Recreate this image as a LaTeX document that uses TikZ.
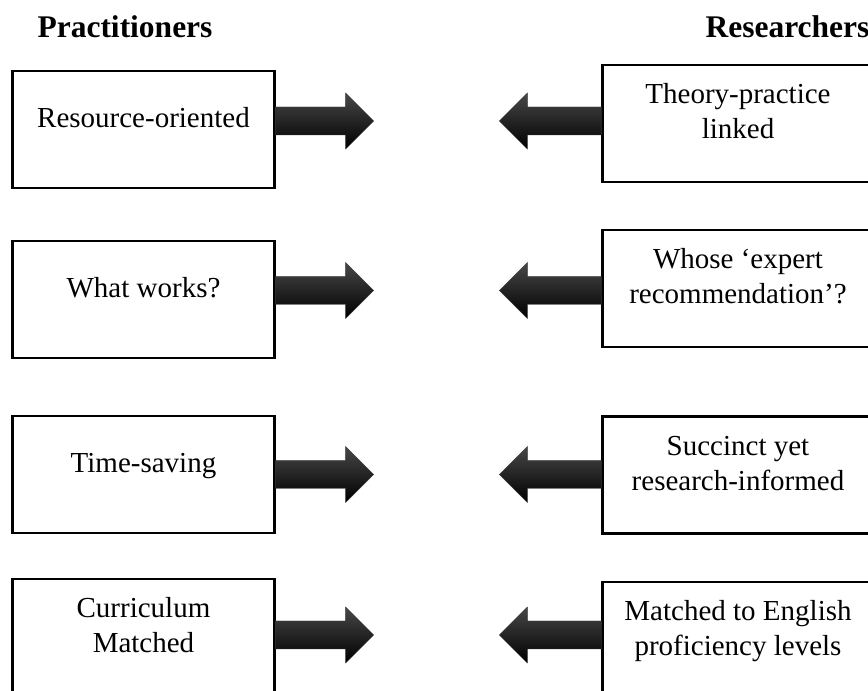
\documentclass[tikz,border=0pt]{standalone}
\usepackage{fontspec}
\setmainfont{Liberation Serif}
\usepackage{tikz}
\usetikzlibrary{calc}
\tikzstyle{head}     = [font=\fontsize{31.5}{38}\selectfont\bfseries, inner sep=0pt]
\tikzstyle{stance}   = [rectangle, draw=black, line width=2.2pt, minimum height=117pt, inner sep=0pt, font=\fontsize{29}{35}\selectfont]
\tikzstyle{practbox} = [stance, minimum width=262pt]
\tikzstyle{resbox}   = [stance, minimum width=271pt]
\tikzstyle{fatarrow} = [top color=black!72, middle color=black, bottom color=black, draw=black!80, line width=0.4pt]
\newcommand{\boxtext}[1]{\raisebox{9pt}[\height][\depth]{\begin{tabular}{@{}c@{}}#1\end{tabular}}}

\begin{document}
\begin{tikzpicture}[x=1pt, y=1pt]
    \clip (0,0) rectangle (868,691);

    \node (practhead) [head] at (125,664)   {Practitioners};
    \node (reshead)   [head] at (787.5,664) {Researchers};

    \node (prac1) [practbox] at (143.5,561.5) {\boxtext{Resource-oriented}};
    \node (prac2) [practbox] at (143.5,391.5) {\boxtext{What works?}};
    \node (prac3) [practbox] at (143.5,216.5) {\boxtext{Time-saving}};
    \node (prac4) [practbox] at (143.5,53.5)  {\boxtext{Curriculum\\Matched}};

    \node (res1) [resbox] at (738,567.5) {\boxtext{Theory-practice\\linked}};
    \node (res2) [resbox] at (738,402.5) {\boxtext{Whose ‘expert\\recommendation’?}};
    \node (res3) [resbox] at (738,216)   {\boxtext{Succinct yet\\research-informed}};
    \node (res4) [resbox] at (738,50.5)  {\boxtext{Matched to English\\proficiency levels}};

    \coordinate (row1) at (0,570);
    \coordinate (row2) at (0,400.5);
    \coordinate (row3) at (0,216.5);
    \coordinate (row4) at (0,56);

    % arrows
    \path [fatarrow] (prac1.east |- row1) -- ++(0,14) -- ++(70,0) -- ++(0,14) -- ++(28,-28) -- ++(-28,-28) -- ++(0,14) -- ++(-70,0) -- cycle;
    \path [fatarrow] (prac2.east |- row2) -- ++(0,14) -- ++(70,0) -- ++(0,14) -- ++(28,-28) -- ++(-28,-28) -- ++(0,14) -- ++(-70,0) -- cycle;
    \path [fatarrow] (prac3.east |- row3) -- ++(0,14) -- ++(70,0) -- ++(0,14) -- ++(28,-28) -- ++(-28,-28) -- ++(0,14) -- ++(-70,0) -- cycle;
    \path [fatarrow] (prac4.east |- row4) -- ++(0,14) -- ++(70,0) -- ++(0,14) -- ++(28,-28) -- ++(-28,-28) -- ++(0,14) -- ++(-70,0) -- cycle;

    \path [fatarrow] (res1.west |- row1) -- ++(0,14) -- ++(-74,0) -- ++(0,14) -- ++(-28,-28) -- ++(28,-28) -- ++(0,14) -- ++(74,0) -- cycle;
    \path [fatarrow] (res2.west |- row2) -- ++(0,14) -- ++(-74,0) -- ++(0,14) -- ++(-28,-28) -- ++(28,-28) -- ++(0,14) -- ++(74,0) -- cycle;
    \path [fatarrow] (res3.west |- row3) -- ++(0,14) -- ++(-74,0) -- ++(0,14) -- ++(-28,-28) -- ++(28,-28) -- ++(0,14) -- ++(74,0) -- cycle;
    \path [fatarrow] (res4.west |- row4) -- ++(0,14) -- ++(-74,0) -- ++(0,14) -- ++(-28,-28) -- ++(28,-28) -- ++(0,14) -- ++(74,0) -- cycle;
\end{tikzpicture}
\end{document}
